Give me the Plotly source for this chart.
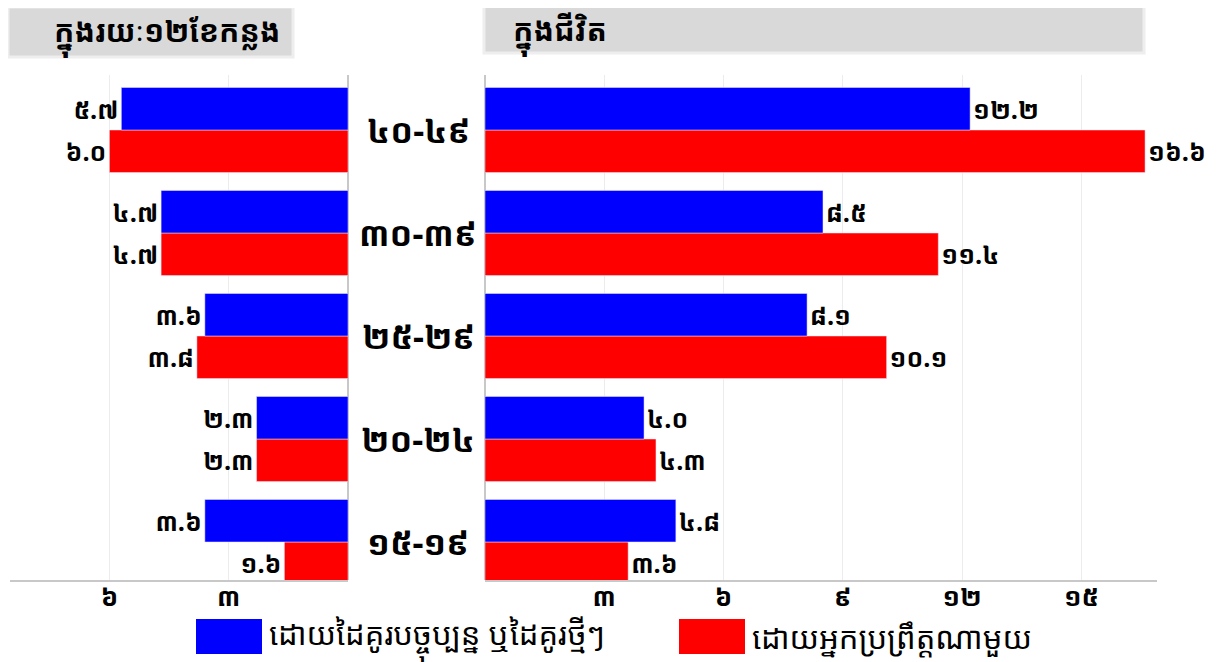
import plotly.graph_objects as go

# age groups, bottom to top
age_groups = ["១៥-១៩", "២០-២៤", "២៥-២៩", "៣០-៣៩", "៤០-៤៩"]

series_names = ["ដោយដៃគូរបច្ចុប្បន្ន ឬដៃគូរថ្មីៗ", "ដោយអ្នកប្រព្រឹត្តណាមួយ"]
colors = ["#0000FF", "#FF0000"]

# past 12 months
past12_partner = [3.6, 2.3, 3.6, 4.7, 5.7]
past12_any = [1.6, 2.3, 3.8, 4.7, 6.0]

# lifetime
life_partner = [4.8, 4.0, 8.1, 8.5, 12.2]
life_any = [3.6, 4.3, 10.1, 11.4, 16.6]

panel_titles = ["ក្នុងរយៈ១២ខែកន្លង", "ក្នុងជីវិត"]

left_ticks = [6, 3]
right_ticks = [3, 6, 9, 12, 15]

KH = str.maketrans("0123456789", "០១២៣៤៥៦៧៨៩")


def kh(v):
    if isinstance(v, float):
        return f"{v:.1f}".translate(KH)
    return str(v).translate(KH)


# page has an 8px body margin, so the figure is a bit smaller than the window
OFF = 8
FW, FH = 1225 - OFF, 662 - OFF
MT, MB = 75 - OFF, 82
PH = FH - MT - MB
FONT = "Khmer OS Muol Light, Khmer OS, Noto Sans Khmer, Khmer OS System, sans-serif"


def px(x):
    return (x - OFF) / FW


def py(y):
    return (FH - MB - (y - OFF)) / PH


fig = go.Figure()

for vals, name, col in [(past12_any, series_names[1], colors[1]),
                        (past12_partner, series_names[0], colors[0])]:
    fig.add_trace(go.Bar(
        y=age_groups, x=vals, orientation="h", name=name,
        marker=dict(color=col, line=dict(width=0.5, color="#e8e8ff")),
        text=[kh(v) for v in vals], textposition="outside",
        textfont=dict(family=FONT, size=25, color="black", weight="bold"),
        cliponaxis=False, xaxis="x", yaxis="y", showlegend=False,
    ))

for vals, name, col in [(life_any, series_names[1], colors[1]),
                        (life_partner, series_names[0], colors[0])]:
    fig.add_trace(go.Bar(
        y=age_groups, x=vals, orientation="h", name=name,
        marker=dict(color=col, line=dict(width=0.5, color="#e8e8ff")),
        text=[kh(v) for v in vals], textposition="outside",
        textfont=dict(family=FONT, size=25, color="black", weight="bold"),
        cliponaxis=False, xaxis="x2", yaxis="y2", showlegend=False,
    ))

axis_common = dict(
    showgrid=True, gridcolor="#ececec", gridwidth=1,
    zeroline=True, zerolinecolor="#c8c8c8", zerolinewidth=2,
    showline=True, linecolor="#c8c8c8", linewidth=2,
    ticks="", ticklabelstandoff=-7,
    tickfont=dict(family=FONT, size=26, color="black", weight="bold"),
    fixedrange=True,
)

ycommon = dict(
    range=[-0.369, 4.534], showticklabels=False, showgrid=False,
    zeroline=False, showline=False, fixedrange=True,
)

fig.update_layout(
    width=FW, height=FH,
    margin=dict(l=0, r=0, t=MT, b=MB),
    paper_bgcolor="white", plot_bgcolor="white",
    barmode="group", bargap=0.175, bargroupgap=0,
    xaxis=dict(domain=[px(10), px(348)], range=[8.5, 0], anchor="y",
               tickvals=left_ticks, ticktext=[kh(t) for t in left_ticks],
               **axis_common),
    xaxis2=dict(domain=[px(485), px(1157)], range=[0, 16.9], anchor="y2",
                tickvals=right_ticks, ticktext=[kh(t) for t in right_ticks],
                **axis_common),
    yaxis=dict(anchor="x", **ycommon),
    yaxis2=dict(anchor="x2", matches="y", **ycommon),
    showlegend=False,
)

# age group labels between the panels
for g in age_groups:
    fig.add_annotation(x=px(418), y=g, xref="paper", yref="y", text=g,
                       xanchor="center", yanchor="middle", showarrow=False,
                       font=dict(family=FONT, size=34, color="black", weight="bold"))

# panel headers
fig.add_shape(type="rect", xref="paper", yref="paper",
              x0=px(8), x1=px(293), y0=py(57), y1=py(7),
              fillcolor="#d9d9d9", line=dict(color="#eeeeee", width=3))
fig.add_annotation(x=px(52), y=py(34), xref="paper", yref="paper", text=panel_titles[0],
                   xanchor="left", yanchor="middle", showarrow=False,
                   font=dict(family=FONT, size=30, color="black", weight="bold"))
fig.add_shape(type="rect", xref="paper", yref="paper",
              x0=px(484), x1=px(1144), y0=py(53), y1=py(5),
              fillcolor="#d9d9d9", line=dict(color="#eeeeee", width=3))
fig.add_annotation(x=px(511), y=py(33), xref="paper", yref="paper", text=panel_titles[1],
                   xanchor="left", yanchor="middle", showarrow=False,
                   font=dict(family=FONT, size=30, color="black", weight="bold"))

# legend
for (x0, name, col) in [(196, series_names[0], colors[0]), (679, series_names[1], colors[1])]:
    fig.add_shape(type="rect", xref="paper", yref="paper",
                  x0=px(x0), x1=px(x0 + 66), y0=py(654), y1=py(619),
                  fillcolor=col, line=dict(width=0))
    fig.add_annotation(x=px(x0 + 71), y=py(637), xref="paper", yref="paper", text=name,
                       xanchor="left", yanchor="middle", showarrow=False,
                       font=dict(family=FONT, size=31, color="black"))

fig.write_html("out.html")
